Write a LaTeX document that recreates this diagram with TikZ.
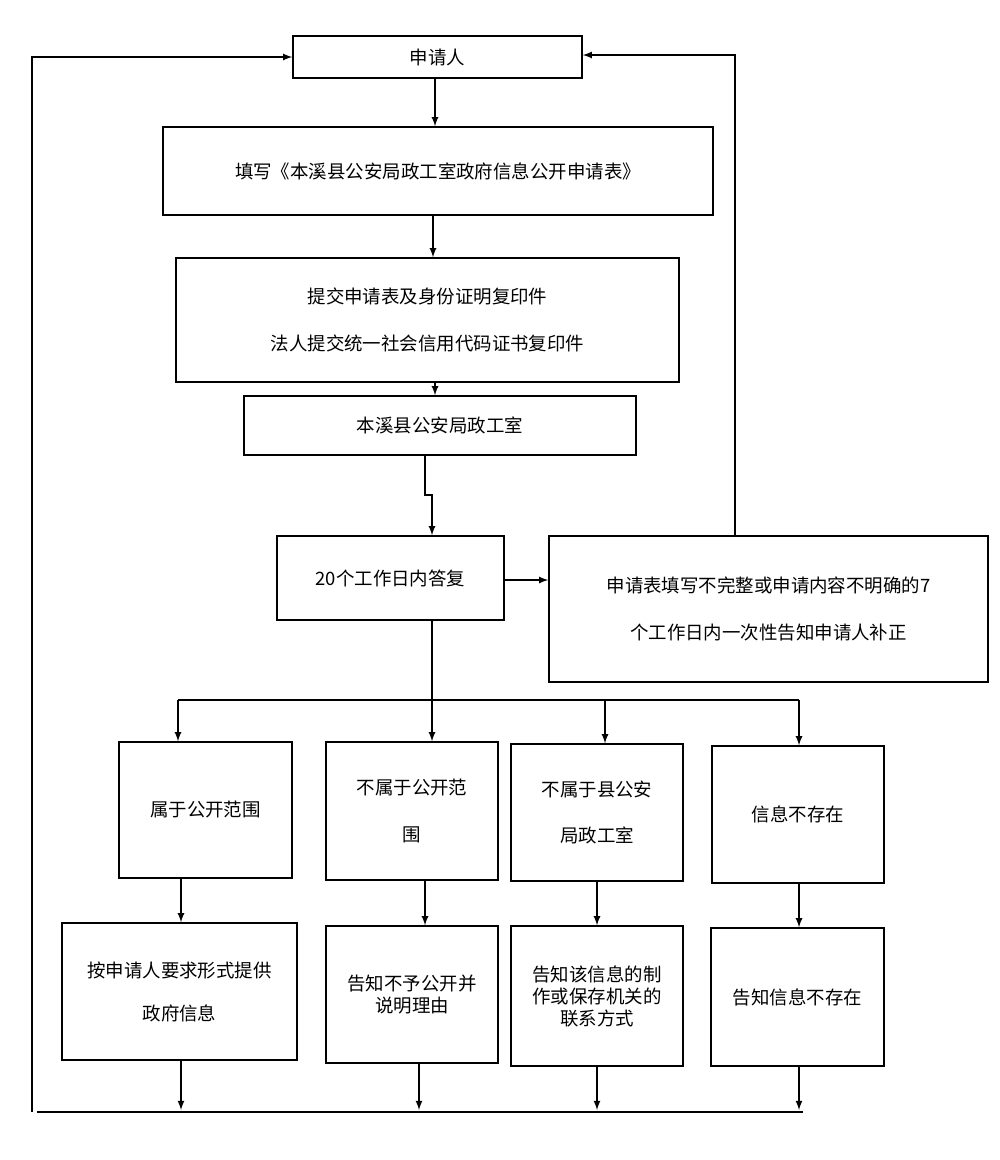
\documentclass[tikz,border=0pt]{standalone}
\usepackage{fontspec}
\setmainfont{Noto Sans CJK SC}
\usetikzlibrary{calc}
\begin{document}
\begin{tikzpicture}[x=0.02cm, y=-0.02cm, font=\fontsize{10.5pt}{12.5pt}\selectfont,
  box/.style={draw, thick, inner sep=0pt, align=center},
  arr/.style={thick, -latex}]
\useasboundingbox (0,0) rectangle (1000,1160);
% boxes as (left,top) rectangles
\newcommand{\bx}[6]{\node[box, minimum width=#4*0.02cm, minimum height=#5*0.02cm] (#1) at (#2+#4/2,#3+#5/2) {#6};}
\bx{app}{293}{36}{289}{42}{申请人}
\bx{form}{163}{127}{550}{88}{填写《本溪县公安局政工室政府信息公开申请表》}
\bx{sub}{176}{258}{503}{124}{提交申请表及身份证明复印件\\[14pt]法人提交统一社会信用代码证书复印件}
\bx{off}{244}{396}{392}{59}{本溪县公安局政工室}
\bx{rep}{277}{536}{227}{84}{20个工作日内答复}
\bx{fix}{549}{536}{439}{146}{申请表填写不完整或申请内容不明确的7\\[14pt]个工作日内一次性告知申请人补正}
\bx{c1}{119}{742}{173}{136}{属于公开范围}
\bx{c2}{326}{742}{172}{138}{不属于公开范\\[14pt]围}
\bx{c3}{511}{744}{172}{137}{不属于县公安\\[14pt]局政工室}
\bx{c4}{712}{746}{172}{137}{信息不存在}
\bx{r1}{62}{923}{235}{137}{按申请人要求形式提供\\[12pt]政府信息}
\bx{r2}{326}{926}{172}{137}{告知不予公开并\\说明理由}
\bx{r3}{511}{926}{172}{140}{告知该信息的制\\作或保存机关的\\联系方式}
\bx{r4}{711}{928}{173}{138}{告知信息不存在}
% main flow
\draw[arr] (app.south -| 435,0) -- (form.north -| 435,0);
\draw[arr] (form.south -| 433,0) -- (sub.north -| 433,0);
\draw[arr] (sub.south -| 435,0) -- (off.north -| 435,0);
\draw[arr] (off.south -| 425,0) |- (432,495) -- (rep.north -| 432,0);
\draw[arr] (rep.east |- 0,580) -- (fix.west |- 0,580);
\coordinate (fixtop) at (fix.north -| 735,0);
\draw[arr] (fixtop) |- (app.east |- 55,55);
% branches
\coordinate (split) at (432,700);
\draw[thick] (rep.south -| 432,0) -- (split);
\draw[thick] (178,700) -- (799,700);
\draw[arr] (178,700) -- (c1.north -| 178,0);
\draw[arr] (split) -- (c2.north -| 432,0);
\draw[arr] (605,700) -- (c3.north -| 605,0);
\draw[arr] (799,700) -- (c4.north -| 799,0);
\draw[arr] (c1.south -| 181,0) -- (r1.north -| 181,0);
\draw[arr] (c2.south -| 425,0) -- (r2.north -| 425,0);
\draw[arr] (c3.south -| 597,0) -- (r3.north -| 597,0);
\draw[arr] (c4.south -| 799,0) -- (r4.north -| 799,0);
% return line
\coordinate (bl) at (32,1112);
\draw[arr] (r1.south -| 181,0) -- (181,1110);
\draw[arr] (r2.south -| 419,0) -- (419,1110);
\draw[arr] (r3.south -| 597,0) -- (597,1110);
\draw[arr] (r4.south -| 799,0) -- (799,1110);
\draw[thick] (37,1112) -- (803,1112);
\draw[arr] (bl) |- (app.west |- 57,57);
\end{tikzpicture}
\end{document}
